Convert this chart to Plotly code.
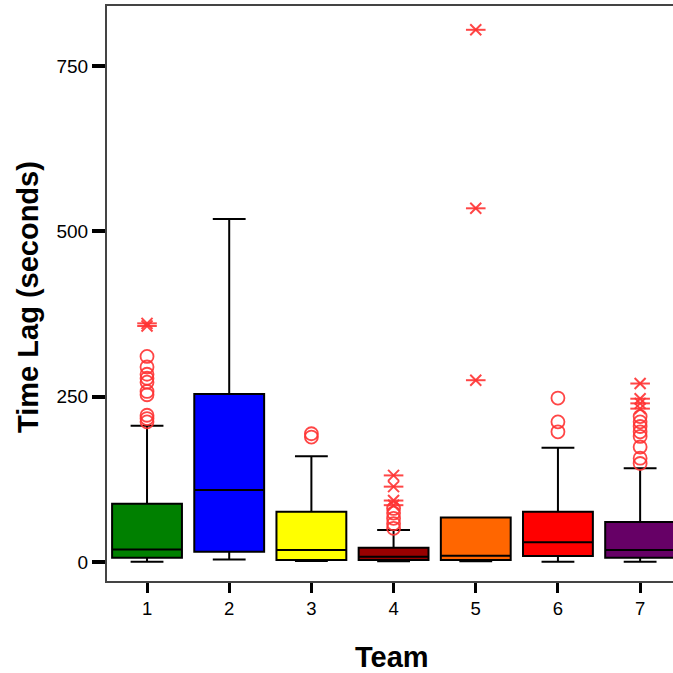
import plotly.graph_objects as go

teams = [1, 2, 3, 4, 5, 6, 7]
colors = ["#008000", "#0000FF", "#FFFF00", "#990000", "#FF6600", "#FF0000", "#660066"]
q1 = [6.5, 15.6, 3, 3, 3, 9, 6.5]
median = [19, 109, 18, 8, 9.5, 30, 18]
q3 = [88, 254, 76, 21.5, 67.5, 76, 60.5]
lowerfence = [0.5, 4, 1.5, 1, 1, 0.5, 0.5]
upperfence = [206, 519, 160, 48.5, 67.5, 173, 142]

# outliers (circles) and extremes (asterisks)
out_team = [1]*10 + [3]*2 + [4]*5 + [6]*3 + [7]*8
out_val = [311, 295, 284, 278, 272, 258, 253, 222, 217, 212,
           194, 189,
           81, 74, 66, 58, 51,
           248, 212, 197,
           220, 212, 205, 197, 190, 174, 157, 149]
ext_team = [1, 1, 4, 4, 4, 4, 5, 5, 5, 7, 7, 7, 7]
ext_val = [357, 361, 131, 114, 93, 86, 805, 535, 275, 270, 247, 240, 232]

y_ticks = [0, 250, 500, 750]
x_title = "Team"
y_title = "Time Lag (seconds)"

mark_color = "rgba(255,50,50,0.9)"

fig = go.Figure()
for t, c, a, m, b, lo, hi in zip(teams, colors, q1, median, q3, lowerfence, upperfence):
    fig.add_trace(go.Box(
        x=[t], q1=[a], median=[m], q3=[b], lowerfence=[lo], upperfence=[hi],
        width=0.85, whiskerwidth=0.47, fillcolor=c,
        line=dict(color="black", width=2), boxpoints=False, showlegend=False,
    ))

fig.add_trace(go.Scatter(
    x=out_team, y=out_val, mode="markers", showlegend=False,
    marker=dict(symbol="circle-open", size=13, color=mark_color, line=dict(width=1.8)),
))
# six-armed asterisk: an x plus a horizontal bar
fig.add_trace(go.Scatter(
    x=ext_team, y=ext_val, mode="markers", showlegend=False,
    marker=dict(symbol="x-thin-open", size=11, color=mark_color, line=dict(width=2)),
))
fig.add_trace(go.Scatter(
    x=ext_team, y=ext_val, mode="markers", showlegend=False,
    marker=dict(symbol="line-ew-open", size=14, color=mark_color, line=dict(width=2)),
))

fig.update_layout(
    width=673, height=673,
    margin=dict(l=107, r=0, t=6, b=92),
    plot_bgcolor="white", paper_bgcolor="white",
    font=dict(family="Liberation Sans, Arial", color="black"),
    xaxis=dict(
        range=[0.513, 7.40], tickmode="array", tickvals=teams, ticktext=[str(t) for t in teams],
        showgrid=False, zeroline=False, showline=True, linecolor="#444", linewidth=2, mirror=True,
        ticks="outside", ticklen=10, tickwidth=2.5, tickcolor="black",
        tickfont=dict(size=18.5),
    ),
    yaxis=dict(
        range=[-28.7, 841], tickmode="array", tickvals=y_ticks,
        showgrid=False, zeroline=False, showline=True, linecolor="#444", linewidth=2,
        ticks="outside", ticklen=13, tickwidth=3.5, tickcolor="black",
        tickfont=dict(size=19),
    ),
    annotations=[
        dict(text=x_title, xref="paper", yref="paper", x=0.5035, y=-0.132,
             xanchor="center", yanchor="middle", showarrow=False,
             font=dict(size=29, family="Liberation Sans, Arial", weight="bold")),
        dict(text=y_title, xref="paper", yref="paper", x=-0.1396, y=0.494,
             xanchor="center", yanchor="middle", showarrow=False, textangle=-90,
             font=dict(size=29, family="Liberation Sans, Arial", weight="bold")),
    ],
)

fig.write_html("out.html")
